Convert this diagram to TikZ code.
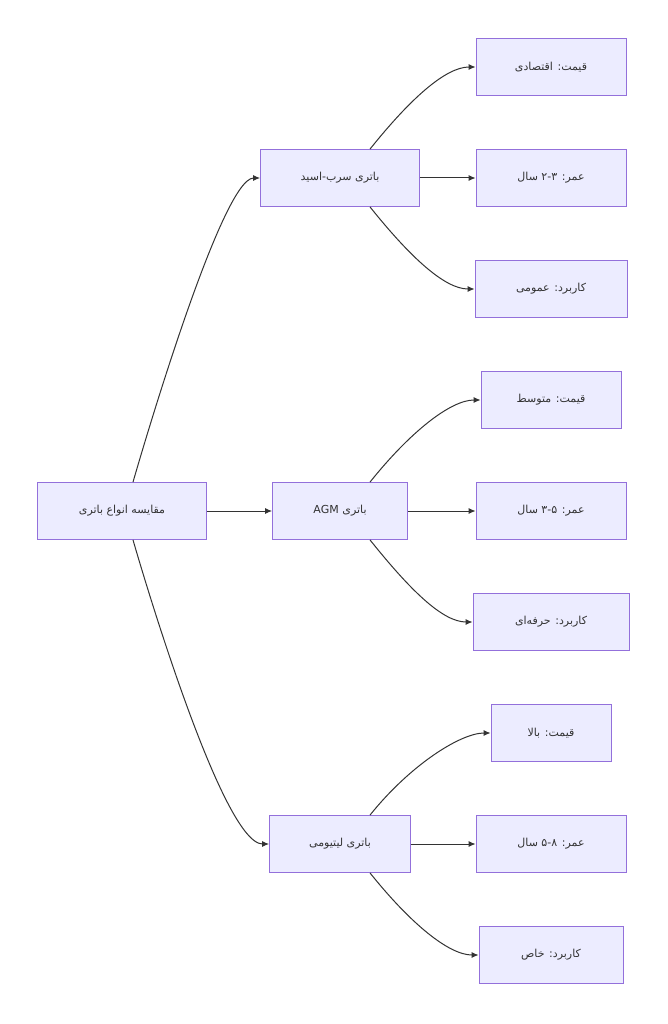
\documentclass[tikz,border=0pt]{standalone}
\usepackage{fontspec}
\newfontfamily\fa[Script=Arabic]{DejaVu Sans}
\usetikzlibrary{arrows.meta}
\TeXXeTstate=1
\newcommand{\rtl}[1]{\beginR #1\endR}
\definecolor{nf}{HTML}{ECECFF}
\definecolor{nd}{HTML}{9370DB}
\definecolor{ed}{HTML}{333333}
\begin{document}
\begin{tikzpicture}[x=1pt,y=-1pt,
 box/.style={draw=nd,fill=nf,line width=0.8pt,minimum height=57pt,inner sep=0pt,font=\fa\fontsize{11}{13}\selectfont,text=ed},
 ar/.style={draw=ed,line width=1pt,-{Latex[length=7pt,width=6pt]}}]
\useasboundingbox (0,0) rectangle (668,1024);
\node[box,minimum width=169pt] (root) at (122,511) {\rtl{مقایسه انواع باتری}};
\node[box,minimum width=159pt] (pb) at (340,178) {\rtl{باتری سرب-اسید}};
\node[box,minimum width=135pt] (agm) at (340,511) {\rtl{باتری AGM}};
\node[box,minimum width=141pt] (li) at (340,844) {\rtl{باتری لیتیومی}};
\node[box,minimum width=150pt] (p1) at (551,67) {\rtl{قیمت: اقتصادی}};
\node[box,minimum width=150pt] (l1) at (551,178) {\rtl{عمر: ۲-۳ سال}};
\node[box,minimum width=152pt] (u1) at (551,289) {\rtl{کاربرد: عمومی}};
\node[box,minimum width=140pt] (p2) at (551,400) {\rtl{قیمت: متوسط}};
\node[box,minimum width=150pt] (l2) at (551,511) {\rtl{عمر: ۳-۵ سال}};
\node[box,minimum width=156pt] (u2) at (551,622) {\rtl{کاربرد: حرفه‌ای}};
\node[box,minimum width=120pt] (p3) at (551,733) {\rtl{قیمت: بالا}};
\node[box,minimum width=150pt] (l3) at (551,844) {\rtl{عمر: ۵-۸ سال}};
\node[box,minimum width=144pt] (u3) at (551,955) {\rtl{کاربرد: خاص}};
\draw[ar] ([xshift=11pt]root.north) .. controls +(0,0) and (220,178) .. (pb.west);
\draw[ar] (root.east) -- (agm.west);
\draw[ar] ([xshift=11pt]root.south) .. controls +(0,0) and (220,844) .. (li.west);
\foreach \q/\p/\l/\u in {pb/p1/l1/u1,agm/p2/l2/u2,li/p3/l3/u3}{
 \draw[ar] ([xshift=30pt]\q.north) .. controls ++(40,-50) and ([xshift=-30pt]\p.west) .. (\p.west);
 \draw[ar] (\q.east) -- (\l.west);
 \draw[ar] ([xshift=30pt]\q.south) .. controls ++(40,50) and ([xshift=-30pt]\u.west) .. (\u.west);
}
\end{tikzpicture}
\end{document}
